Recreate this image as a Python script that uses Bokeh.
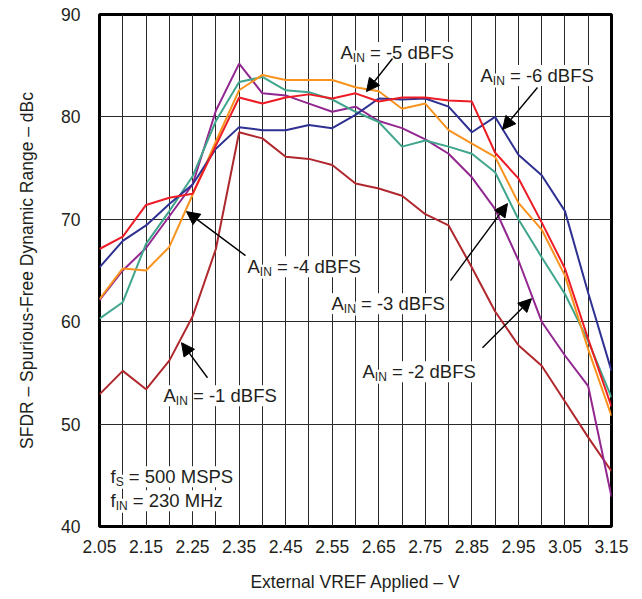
from bokeh.plotting import figure
from bokeh.models import Range1d, FixedTicker, Label, Arrow, NormalHead
from bokeh.embed import file_html
from bokeh.resources import INLINE

# ---------------- data ----------------
vref = [2.05, 2.10, 2.15, 2.20, 2.25, 2.30, 2.35, 2.40, 2.45, 2.50, 2.55, 2.60,
        2.65, 2.70, 2.75, 2.80, 2.85, 2.90, 2.95, 3.00, 3.05, 3.10, 3.15]

sfdr_m1 = [52.9, 55.2, 53.4, 56.2, 60.5, 67.1, 78.5, 77.9, 76.1, 75.9, 75.3, 73.5,
           73.0, 72.3, 70.5, 69.4, 65.3, 61.0, 57.7, 55.7, 52.2, 48.7, 45.4]
sfdr_m2 = [62.1, 65.0, 67.2, 70.3, 73.4, 80.6, 85.2, 82.3, 82.1, 81.3, 80.5, 81.0,
           79.6, 78.9, 77.8, 76.4, 74.1, 71.0, 66.0, 60.0, 56.7, 53.7, 42.9]
sfdr_m3 = [60.3, 61.9, 67.6, 70.8, 74.2, 79.6, 83.4, 83.9, 82.6, 82.4, 81.7, 80.5,
           79.5, 77.1, 77.7, 77.1, 76.4, 74.6, 70.0, 66.3, 62.7, 58.1, 52.6]
sfdr_m4 = [62.2, 65.2, 65.0, 67.3, 72.4, 77.6, 82.6, 84.1, 83.6, 83.6, 83.6, 82.9,
           82.5, 80.8, 81.3, 78.7, 77.4, 76.1, 71.6, 69.0, 64.5, 57.3, 50.8]
sfdr_m5 = [67.1, 68.3, 71.4, 72.1, 72.5, 77.2, 81.9, 81.3, 81.9, 82.2, 81.8, 82.3,
           81.5, 81.9, 81.9, 81.6, 81.5, 76.5, 74.0, 69.7, 65.2, 58.3, 51.7]
sfdr_m6 = [65.3, 67.9, 69.4, 71.5, 73.4, 76.9, 79.0, 78.7, 78.7, 79.2, 78.9, 80.2,
           81.8, 81.7, 81.8, 81.0, 78.5, 80.0, 76.3, 74.3, 70.8, 62.8, 55.2]

x_tick_values = [2.05, 2.15, 2.25, 2.35, 2.45, 2.55, 2.65, 2.75, 2.85, 2.95, 3.05, 3.15]
x_grid_values = [2.10, 2.15, 2.20, 2.25, 2.30, 2.35, 2.40, 2.45, 2.50, 2.55, 2.60,
                 2.65, 2.70, 2.75, 2.80, 2.85, 2.90, 2.95, 3.00, 3.05, 3.10]
y_tick_values = [40, 50, 60, 70, 80, 90]
y_grid_values = [50, 60, 70, 80]

# ---------------- styling ----------------
FONT = "Liberation Sans"
TXT = "#231f20"
FS = 17.5
ANN_FS = 18.5
SUB_FS = 12

p = figure(width=638, height=598, output_backend="svg", toolbar_location=None,
           x_range=Range1d(2.05, 3.15), y_range=Range1d(40, 90),
           min_border_left=99, min_border_right=27, min_border_top=14,
           min_border_bottom=72)
p.background_fill_color = "white"
p.border_fill_color = "white"
p.outline_line_color = "black"
p.outline_line_width = 3

p.xaxis.ticker = FixedTicker(ticks=x_tick_values)
p.yaxis.ticker = FixedTicker(ticks=y_tick_values)
p.xgrid.ticker = FixedTicker(ticks=x_grid_values)
p.ygrid.ticker = FixedTicker(ticks=y_grid_values)
for g in (p.xgrid, p.ygrid):
    g.grid_line_color = "#2a2a2a"
    g.grid_line_width = 1

p.xaxis.major_label_overrides = {v: f"{v:.2f}" for v in x_tick_values}
for ax in (p.xaxis, p.yaxis):
    ax.axis_line_color = None
    ax.major_tick_line_color = None
    ax.minor_tick_line_color = None
    ax.major_tick_out = 0
    ax.major_tick_in = 0
    ax.major_label_text_font = FONT
    ax.major_label_text_font_size = f"{FS}px"
    ax.major_label_text_color = TXT
    ax.axis_label_text_font = FONT
    ax.axis_label_text_font_size = f"{FS}px"
    ax.axis_label_text_font_style = "normal"
    ax.axis_label_text_color = TXT

p.xaxis.axis_label = "External VREF Applied \u2013 V"
p.yaxis.axis_label = "SFDR \u2013 Spurious-Free Dynamic Range \u2013 dBc"
p.xaxis.major_label_standoff = 13
p.xaxis.axis_label_standoff = 16
p.yaxis.major_label_standoff = 19
p.yaxis.axis_label_standoff = 21

series = [
    (sfdr_m1, "#b0282e"),
    (sfdr_m2, "#92278f"),
    (sfdr_m3, "#3fa58c"),
    (sfdr_m4, "#f7931e"),
    (sfdr_m6, "#2e3192"),
    (sfdr_m5, "#ee1c25"),
]
for vals, col in series:
    p.line(vref, vals, line_color=col, line_width=2)

# page-pixel -> data helpers for annotation placement
def dx(px):
    return 2.05 + (px - 99.0) / (611.0 - 99.0) * 1.1

def dy(py):
    return 90.0 - (py - 14.0) / (525.7 - 14.0) * 50.0

SPACE_W = 0.278 * ANN_FS

def sub_label(px, py, main, sub, rest, main_w):
    x, y = dx(px), dy(py)
    common = dict(text_font=FONT, text_color=TXT, text_baseline="alphabetic",
                  background_fill_color="white")
    p.add_layout(Label(x=x, y=y, text=main, text_font_size=f"{ANN_FS}px", **common))
    p.add_layout(Label(x=x, y=y, x_offset=main_w, y_offset=-5, text=sub,
                       text_font_size=f"{SUB_FS}px", **common))
    sub_w = {"IN": 1.0, "S": 0.667}[sub] * SUB_FS
    p.add_layout(Label(x=x, y=y, x_offset=main_w + sub_w + SPACE_W, text=rest,
                       text_font_size=f"{ANN_FS}px", **common))

A_W = 0.667 * ANN_FS
annotations = [
    (340, 52, "= -5 dBFS"),
    (480, 75, "= -6 dBFS"),
    (247, 266, "= -4 dBFS"),
    (331, 303, "= -3 dBFS"),
    (362, 371, "= -2 dBFS"),
    (163, 395, "= -1 dBFS"),
]
for px, py, rest in annotations:
    sub_label(px, py, "A", "IN", rest, A_W)

sub_label(110, 476, "f", "S", "= 500 MSPS", 0.278 * ANN_FS)
sub_label(110, 500, "f", "IN", "= 230 MHz", 0.278 * ANN_FS)

arrows = [
    ((392, 58), (366, 91)),
    ((537, 87), (502, 129)),
    ((245, 255), (186, 211)),
    ((450, 280), (507, 203)),
    ((482, 347), (531, 298)),
    ((207, 377), (181, 342)),
]
for (x0, y0), (x1, y1) in arrows:
    p.add_layout(Arrow(end=NormalHead(size=13, fill_color="black", line_color="black"),
                       x_start=dx(x0), y_start=dy(y0), x_end=dx(x1), y_end=dy(y1),
                       line_color="black", line_width=1.4))

open("out.html", "w").write(file_html(p, INLINE))
